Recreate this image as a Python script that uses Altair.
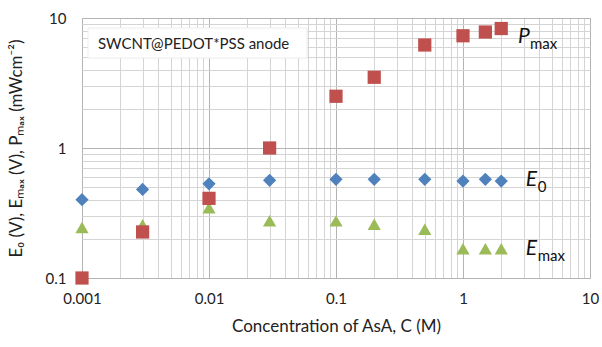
import altair as alt
import pandas as pd

conc = [0.001, 0.003, 0.01, 0.03, 0.1, 0.2, 0.5, 1, 1.5, 2]
p_max = [0.1, 0.226, 0.41, 1.0, 2.5, 3.5, 6.2, 7.3, 7.8, 8.3]
e_0 = [0.40, 0.48, 0.53, 0.564, 0.574, 0.574, 0.574, 0.557, 0.574, 0.557]
e_max = [0.245, 0.257, 0.347, 0.276, 0.275, 0.259, 0.237, 0.168, 0.168, 0.168]

series_names = ["E0", "Emax", "Pmax"]
series_colors = ["#4F81BD", "#9BBB59", "#C0504D"]
series_shapes = ["diamond", "triangle-up", "square"]
series_sizes = [175, 175, 125]

x_ticks = [m * 10 ** e for e in range(-3, 1) for m in range(1, 10)] + [10]
y_ticks = [m * 10 ** e for e in range(-1, 1) for m in range(1, 10)] + [10]

rows = []
for name, vals in zip(series_names, [e_0, e_max, p_max]):
    for c, v in zip(conc, vals):
        rows.append({"series": name, "C": c, "v": v})
df = pd.DataFrame(rows)

FONT = "Lato"
major_test = "abs(log(datum.value)/LN10 - round(log(datum.value)/LN10)) < 0.001"

xscale = alt.Scale(type="log", domain=[0.001, 10], nice=False)
yscale = alt.Scale(type="log", domain=[0.1, 10], nice=False)

points = alt.Chart(df).mark_point(filled=True, opacity=1).encode(
    x=alt.X("C:Q", scale=xscale, axis=alt.Axis(
        values=x_ticks, format="~g",
        labelExpr=f"({major_test}) ? format(datum.value, '~g') : ''",
        title="Concentration of AsA, C (M)", ticks=False, domain=False,
        labelPadding=13, titlePadding=12, labelFlush=False,
        gridColor={"condition": {"test": major_test, "value": "#b4b4b4"}, "value": "#d4d4d4"},
    )),
    y=alt.Y("v:Q", scale=yscale, axis=alt.Axis(
        values=y_ticks, format="~g",
        labelExpr=f"({major_test}) ? format(datum.value, '~g') : ''",
        title="E\u2080 (V), E\u2098\u2090\u2093 (V), P\u2098\u2090\u2093 (mWcm\u207b\u00b2)",
        ticks=False, domain=False, labelPadding=16, titlePadding=20, labelFlush=False,
        gridColor={"condition": {"test": major_test, "value": "#b4b4b4"}, "value": "#d4d4d4"},
    )),
    color=alt.Color("series:N", scale=alt.Scale(domain=series_names, range=series_colors), legend=None),
    shape=alt.Shape("series:N", scale=alt.Scale(domain=series_names, range=series_shapes), legend=None),
    size=alt.Size("series:N", scale=alt.Scale(domain=series_names, range=series_sizes), legend=None),
)

box_df = pd.DataFrame({"t": ["SWCNT@PEDOT*PSS anode"]})
box = alt.Chart(box_df).mark_rect(fill="white", stroke="#ececec").encode(
    x=alt.value(6), x2=alt.value(225), y=alt.value(10), y2=alt.value(40)
)
box_text = alt.Chart(box_df).mark_text(align="left", baseline="middle", font=FONT, fontSize=15, color="#222").encode(
    x=alt.value(16), y=alt.value(26), text="t:N"
)

lab_main = pd.DataFrame({"x": [2.71, 3.12, 3.12], "y": [7.1, 0.566, 0.167], "t": ["P", "E", "E"]})
lab_sub = pd.DataFrame({"x": [2.71, 3.12, 3.12], "y": [7.1, 0.566, 0.167], "t": ["max", "0", "max"]})
main_text = alt.Chart(lab_main).mark_text(align="left", baseline="middle", font=FONT, fontSize=21,
                                           fontStyle="italic", color="#111").encode(
    x=alt.X("x:Q", scale=xscale), y=alt.Y("v:Q", scale=yscale), text="t:N"
).transform_calculate(v="datum.y")
sub_text = alt.Chart(lab_sub).mark_text(align="left", baseline="middle", font=FONT, fontSize=15,
                                         dx=12, dy=7, color="#111").encode(
    x=alt.X("x:Q", scale=xscale), y=alt.Y("v:Q", scale=yscale), text="t:N"
).transform_calculate(v="datum.y")

chart = alt.layer(points, box, box_text, main_text, sub_text).properties(
    width=508, height=260,
    padding={"left": 82, "top": 18, "right": 12, "bottom": 69},
    autosize="none",
).configure_view(stroke="#c8c8c8").configure_axis(
    labelFont=FONT, labelFontSize=15, labelColor="#222",
    titleFont=FONT, titleFontSize=17, titleColor="#222", titleFontWeight="normal",
    gridWidth=1,
)

chart.save("out.html", embed_options={"renderer": "svg", "actions": False})
